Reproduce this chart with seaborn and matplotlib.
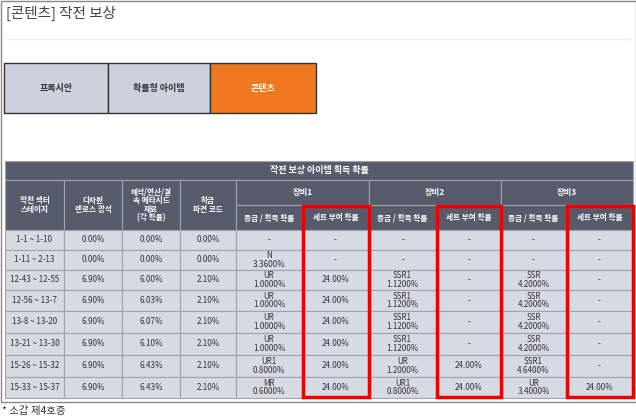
import matplotlib
matplotlib.use("Agg")
import matplotlib.pyplot as plt
import seaborn as sns
from matplotlib.patches import Rectangle

sns.set_theme(style="white")
plt.rcParams['font.family'] = ['Noto Sans CJK KR', 'DejaVu Sans']

title = "[콘텐츠] 작전 보상"
tabs = ["프록시안", "확률형 아이템", "콘텐츠"]
table_title = "작전 보상 아이템 획득 확률"
head_cols = ["작전 섹터\n스테이지", "다차원\n렌로스 광석", "해석/연산/결\n속 메타시드\n재료\n(각 확률)", "하급\n파견 코드"]
equip = ["장비1", "장비2", "장비3"]
sub_heads = ["등급 / 획득 확률", "세트 부여 확률"]
stages = ["1-1 ~ 1-10", "1-11 ~ 2-13", "12-43 ~ 12-55", "12-56 ~ 13-7", "13-8 ~ 13-20",
          "13-21 ~ 13-30", "15-26 ~ 15-32", "15-33 ~ 15-37"]
ore = ["0.00%", "0.00%", "6.90%", "6.90%", "6.90%", "6.90%", "6.90%", "6.90%"]
seed = ["0.00%", "0.00%", "6.00%", "6.03%", "6.07%", "6.10%", "6.43%", "6.43%"]
code = ["0.00%", "0.00%", "2.10%", "2.10%", "2.10%", "2.10%", "2.10%", "2.10%"]
eq1_grade = ["-", "N\n3.3600%", "UR\n1.0000%", "UR\n1.0000%", "UR\n1.0000%", "UR\n1.0000%", "UR1\n0.8000%", "MR\n0.6000%"]
eq1_set = ["-", "-", "24.00%", "24.00%", "24.00%", "24.00%", "24.00%", "24.00%"]
eq2_grade = ["-", "-", "SSR1\n1.1200%", "SSR1\n1.1200%", "SSR1\n1.1200%", "SSR1\n1.1200%", "UR\n1.2000%", "UR1\n0.8000%"]
eq2_set = ["-", "-", "-", "-", "-", "-", "24.00%", "24.00%"]
eq3_grade = ["-", "-", "SSR\n4.2000%", "SSR\n4.2000%", "SSR\n4.2000%", "SSR\n4.2000%", "SSR1\n4.6400%", "UR\n3.4000%"]
eq3_set = ["-", "-", "-", "-", "-", "-", "-", "24.00%"]
footnote = "* 소갑 제4호증"

fig = plt.figure(figsize=(6.36, 4.2), dpi=100)
ax = fig.add_axes([0, 0, 1, 1])
ax.set_xlim(0, 636); ax.set_ylim(420, 0); ax.axis("off")

HEAD = "#575c6c"; CELL = "#d6dae3"; EDGE = "#a0a3aa"

def cell(x0, x1, y0, y1, txt, bg, fc, fs=6, bold=False, ec=EDGE, lw=0.8):
    ax.add_patch(Rectangle((x0, y0), x1 - x0, y1 - y0, facecolor=bg, edgecolor=ec, lw=lw))
    ax.text((x0 + x1) / 2, (y0 + y1) / 2, txt, ha="center", va="center", color=fc,
            fontsize=fs, fontweight="bold" if bold else "normal", linespacing=0.95)

# outer frame
ax.add_patch(Rectangle((0.5, 0.5), 635, 401, fill=False, edgecolor="#888888", lw=1))
ax.text(6, 13, title, fontsize=10.5, color="#444444", va="center")
ax.plot([5, 630], [39, 39], color="#eceef4", lw=1)

tab_x = [4, 108, 210, 316]
for i, t in enumerate(tabs):
    on = i == 2
    cell(tab_x[i], tab_x[i + 1], 63, 113, t, "#f07820" if on else "#cdd1de",
         "white" if on else "#333333", fs=6.5, bold=True, ec="#333333", lw=1)

xs = [5, 64, 122, 180, 236, 302, 369, 436, 501, 566, 633]
cell(xs[0], xs[-1], 161, 180, table_title, HEAD, "white", fs=6.5, bold=True)
for i, h in enumerate(head_cols):
    cell(xs[i], xs[i + 1], 180, 230, h, HEAD, "white", fs=5.5, bold=True)
for j, e in enumerate(equip):
    cell(xs[4 + 2 * j], xs[6 + 2 * j], 180, 205, e, HEAD, "white", fs=6, bold=True)
    for k, s in enumerate(sub_heads):
        cell(xs[4 + 2 * j + k], xs[5 + 2 * j + k], 205, 230, s, HEAD, "white", fs=5.5, bold=True)

ys = [230, 250, 270, 290, 311, 333, 355, 377, 398]
cols = [stages, ore, seed, code, eq1_grade, eq1_set, eq2_grade, eq2_set, eq3_grade, eq3_set]
for r in range(len(stages)):
    for c, col in enumerate(cols):
        cell(xs[c], xs[c + 1], ys[r], ys[r + 1], col[r], CELL, "#333333", fs=5.8)

for c in (5, 7, 9):
    ax.add_patch(Rectangle((xs[c] + 1, 206), xs[c + 1] - xs[c] - 1, 191, fill=False,
                           edgecolor="#ee0000", lw=2.5))

ax.text(2, 411, footnote, fontsize=7.5, color="#333333", va="center")

fig.savefig("out.png", dpi=100)
